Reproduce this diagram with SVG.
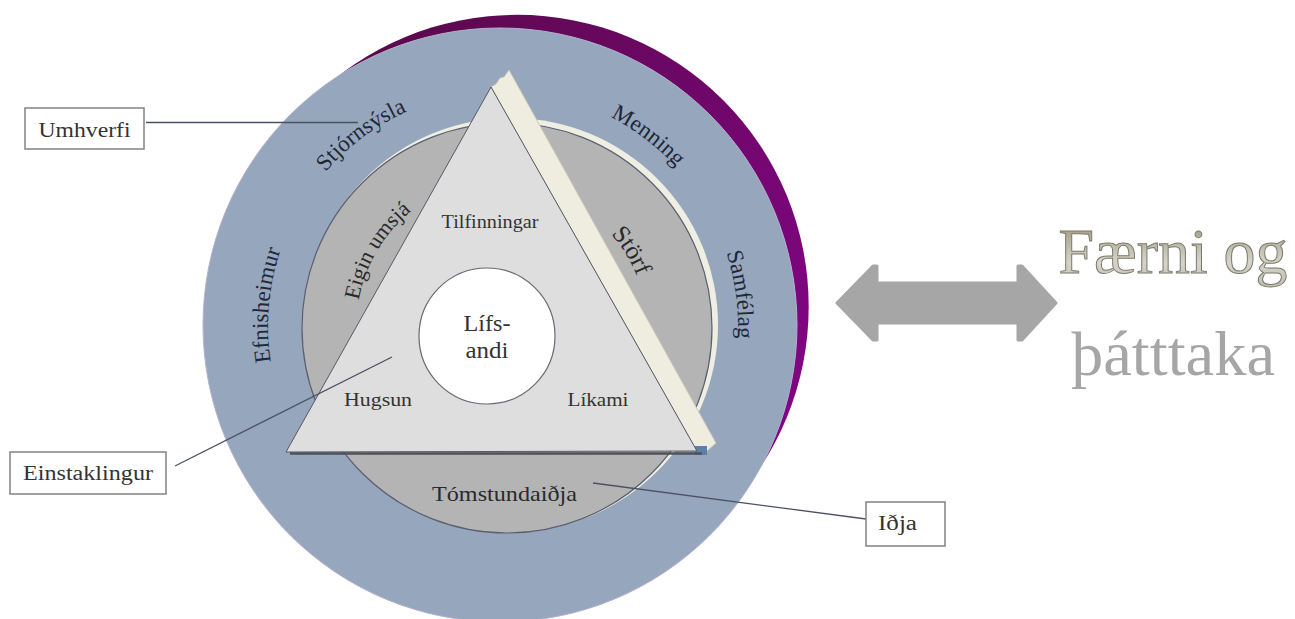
<svg xmlns="http://www.w3.org/2000/svg" xmlns:xlink="http://www.w3.org/1999/xlink" width="1295" height="619" viewBox="0 0 1295 619">
<style>
.serif{font-family:"Liberation Serif","Times New Roman",serif;}
.band{font-size:23px;fill:#1f2838;}
.ring{font-size:22px;fill:#2a2a2a;}
.tri{font-size:19px;fill:#333333;}
.lbl{font-size:20px;fill:#333333;}
.box{fill:#ffffff;stroke:#8a8a8a;stroke-width:1.6;}
.conn{stroke:#4a5262;stroke-width:1.3;fill:none;}
</style>
<defs>
<linearGradient id="purp" x1="300" y1="20" x2="800" y2="420" gradientUnits="userSpaceOnUse">
<stop offset="0" stop-color="#560a45"/>
<stop offset="1" stop-color="#820585"/>
</linearGradient>
<linearGradient id="wa" x1="0" y1="230" x2="0" y2="295" gradientUnits="userSpaceOnUse">
<stop offset="0" stop-color="#a8a48c"/>
<stop offset="0.5" stop-color="#d6d4c8"/>
<stop offset="1" stop-color="#b9b7aa"/>
</linearGradient>
<path id="bandPath" d="M 503 561 A 235 235 0 1 1 503 91 A 235 235 0 1 1 503 561"/>
<path id="eiginPath" d="M 507 479 A 151 151 0 1 1 507 177 A 151 151 0 1 1 507 479"/>
<path id="storfPath" d="M 507 468 A 140 140 0 1 1 507 188 A 140 140 0 1 1 507 468"/>
</defs>

<g id="outer-ring">
<circle cx="517" cy="306.5" r="291.7" fill="url(#purp)"/>
<circle cx="500" cy="325" r="297" fill="#96a6bc" stroke="#b4b2d0" stroke-width="1"/>
</g>

<g id="band-labels" class="serif band">
<text><textPath xlink:href="#bandPath" startOffset="389.6" text-anchor="middle">Efnisheimur</textPath></text>
<text><textPath xlink:href="#bandPath" startOffset="588" text-anchor="middle">Stjórnsýsla</textPath></text>
<text><textPath xlink:href="#bandPath" startOffset="891" text-anchor="middle">Menning</textPath></text>
<text><textPath xlink:href="#bandPath" startOffset="1076" text-anchor="middle">Samfélag</textPath></text>
</g>

<g id="inner-ring">
<circle cx="511" cy="325" r="207" fill="#efeee2"/>
<circle cx="507" cy="328" r="205" fill="#b4b4b4" stroke="#5a6070" stroke-width="1.2"/>
<g class="serif ring">
<text><textPath xlink:href="#eiginPath" startOffset="318" text-anchor="middle">Eigin umsjá</textPath></text>
<text style="font-size:25px"><textPath xlink:href="#storfPath" startOffset="581.5" text-anchor="middle">Störf</textPath></text>
</g>
<text class="serif ring" x="504.5" y="501" text-anchor="middle" textLength="145" lengthAdjust="spacingAndGlyphs">Tómstundaiðja</text>
</g>

<g id="triangle">
<polygon points="491,87 496,84 500,78 504,77 509,70 716,443 707,451 697,451" fill="#eeeddf" stroke="#c9c8b6" stroke-width="1"/>
<rect x="695" y="446" width="12" height="9" fill="#5c80a8"/>
<line x1="290" y1="453.5" x2="702" y2="453.5" stroke="#4e5158" stroke-width="2.5"/>
<polygon points="491,87 697,451 286,452" fill="#dedede" stroke="#555a62" stroke-width="1"/>
<g class="serif tri">
<text x="490" y="228" text-anchor="middle" textLength="97" lengthAdjust="spacingAndGlyphs">Tilfinningar</text>
<text x="378" y="406" text-anchor="middle" textLength="68" lengthAdjust="spacingAndGlyphs">Hugsun</text>
<text x="598" y="406" text-anchor="middle" textLength="61" lengthAdjust="spacingAndGlyphs">Líkami</text>
</g>
</g>

<g id="core">
<ellipse cx="487" cy="336" rx="68" ry="68" fill="#ffffff" stroke="#666a70" stroke-width="1.2"/>
<g class="serif" style="font-size:23px;fill:#333333">
<text x="487" y="331" text-anchor="middle" textLength="47" lengthAdjust="spacingAndGlyphs">Lífs-</text>
<text x="487" y="358" text-anchor="middle" textLength="43" lengthAdjust="spacingAndGlyphs">andi</text>
</g>
</g>

<g id="connectors">
<line class="conn" x1="146" y1="122.5" x2="358" y2="122.5"/>
<line class="conn" x1="175" y1="466" x2="392" y2="357"/>
<line class="conn" x1="593" y1="483" x2="866" y2="519"/>
</g>

<g id="label-umhverfi">
<rect class="box" x="25" y="108" width="119" height="41"/>
<text class="serif lbl" x="84.5" y="137" text-anchor="middle" textLength="92" lengthAdjust="spacingAndGlyphs">Umhverfi</text>
</g>

<g id="label-einstaklingur">
<rect class="box" x="10" y="452" width="156" height="42"/>
<text class="serif lbl" x="88" y="480" text-anchor="middle" textLength="130" lengthAdjust="spacingAndGlyphs">Einstaklingur</text>
</g>

<g id="label-idja">
<rect class="box" x="866" y="502" width="79" height="44"/>
<text class="serif lbl" x="897.5" y="530" text-anchor="middle" textLength="39" lengthAdjust="spacingAndGlyphs">Iðja</text>
</g>

<g id="arrow">
<polygon points="837,303 873,266 877,266 877,283 1018,283 1018,266 1022,266 1056,303 1022,340 1018,340 1018,323 877,323 877,340 873,340" fill="#a6a6a6" stroke="#a6a6a6" stroke-width="3" stroke-linejoin="round"/>
</g>

<g id="faerni-text" class="serif">
<text x="1173" y="273" text-anchor="middle" style="font-size:64px" fill="url(#wa)" stroke="#7c7a6c" stroke-width="1" textLength="229" lengthAdjust="spacingAndGlyphs">Færni og</text>
<text x="1173" y="375" text-anchor="middle" style="font-size:64px" fill="#a6a6a6" textLength="204" lengthAdjust="spacingAndGlyphs">þátttaka</text>
</g>
</svg>
